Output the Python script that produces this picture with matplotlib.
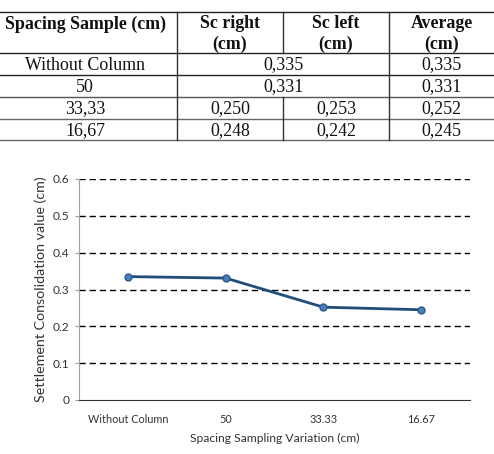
import matplotlib
matplotlib.use("Agg")
from matplotlib import pyplot as plt
import numpy as np

# table data
header = [["Spacing Sample (cm)"], ["Sc right", "(cm)"], ["Sc left", "(cm)"], ["Average", "(cm)"]]
spacing_labels = ["Without Column", "50", "33,33", "16,67"]
sc_right = ["0,335", "0,331", "0,250", "0,248"]
sc_left = ["0,335", "0,331", "0,253", "0,242"]
sc_avg = ["0,335", "0,331", "0,252", "0,245"]

# chart data
categories = ["Without Column", "50", "33.33", "16.67"]
settlement = [0.335, 0.331, 0.252, 0.245]

W, H = 494, 454
fig = plt.figure(figsize=(W / 100, H / 100), dpi=100, facecolor="white")

# ---- table drawn in pixel coordinates ----
tab = fig.add_axes([0, 0, 1, 1])
tab.set_xlim(0, W)
tab.set_ylim(H, 0)
tab.axis("off")

col_x = [0, 177, 283, 389, 494]
row_y = [12, 53, 75, 97, 119, 140]
row_col = ["#222222", "#222222", "#222222", "#555555", "#666666", "#666666"]
for y, c in zip(row_y, row_col):
    tab.plot([0, W], [y, y], color=c, lw=1.0)
vc = "#333333"
for x in [col_x[1], col_x[3]]:
    tab.plot([x, x], [row_y[0], row_y[-1]], color=vc, lw=1.0)
# middle divider only where right/left values differ
tab.plot([col_x[2], col_x[2]], [row_y[0], row_y[1]], color=vc, lw=1.0)
tab.plot([col_x[2], col_x[2]], [row_y[3], row_y[5]], color=vc, lw=1.0)

serif = dict(family="Liberation Serif", fontsize=12.9, color="#111111")
centers = [85, 230, 336, 441.5]
for i, lines in enumerate(header):
    for j, t in enumerate(lines):
        tab.text(centers[i], 24 + j * 20, t, ha="center", va="center",
                 fontweight="bold", **serif)

for r in range(4):
    yc = (row_y[r + 1] + row_y[r + 2]) / 2 + 1
    tab.text(centers[0], yc, spacing_labels[r], ha="center", va="center", **serif)
    if sc_right[r] == sc_left[r]:
        tab.text(col_x[2], yc, sc_right[r], ha="center", va="center", **serif)
    else:
        tab.text(centers[1], yc, sc_right[r], ha="center", va="center", **serif)
        tab.text(centers[2], yc, sc_left[r], ha="center", va="center", **serif)
    tab.text(centers[3], yc, sc_avg[r], ha="center", va="center", **serif)

# ---- line chart ----
ax = fig.add_axes([79 / W, 1 - 400 / H, (470 - 79) / W, (400 - 179) / H])
xpos = np.arange(len(categories))
ax.plot(xpos, settlement, color="#1f4e79", lw=2.0, marker="o", markersize=5,
        markerfacecolor="#4a7ebb", markeredgecolor="#2c5a8c", markeredgewidth=1.0, zorder=3)

ax.set_xlim(-0.5, len(categories) - 0.5)
ax.set_ylim(0, 0.6)
ax.set_yticks(np.arange(0, 0.61, 0.1))
ax.set_yticklabels(["0", "0.1", "0.2", "0.3", "0.4", "0.5", "0.6"])
ax.set_xticks(xpos)
ax.set_xticklabels(categories)
for y in np.arange(0.1, 0.61, 0.1):
    ax.axhline(y, color="black", lw=1.0, ls=(0, (4.5, 2.8)), zorder=1)

for s in ["top", "right"]:
    ax.spines[s].set_visible(False)
ax.spines["left"].set_color("#a0a0a0")
ax.spines["bottom"].set_color("#333333")
ax.tick_params(labelsize=7.8, colors="#333333")
ax.tick_params(axis="y", length=3, color="#a0a0a0", pad=4, labelsize=8.6)
ax.tick_params(axis="x", length=0, pad=10)
for lab in ax.get_xticklabels() + ax.get_yticklabels():
    lab.set_family("Lato")

ax.set_xlabel("Spacing Sampling Variation (cm)", family="Lato", fontsize=8.7, color="#333333", labelpad=6)
ax.set_ylabel("Settlement Consolidation value (cm)", family="Lato", fontsize=10.3, color="#333333", labelpad=4)

fig.savefig("out.png", dpi=100, facecolor="white")
